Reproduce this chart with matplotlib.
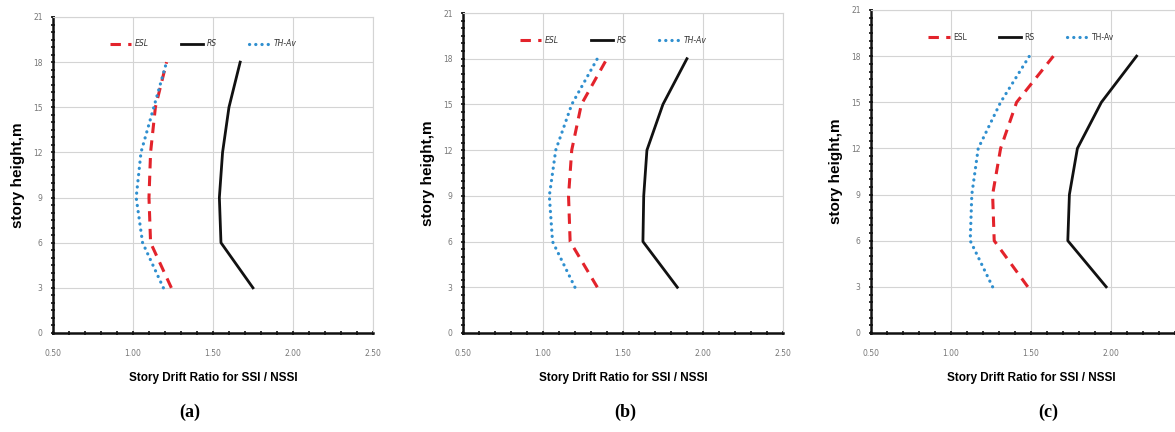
import matplotlib
matplotlib.use("Agg")
import matplotlib.pyplot as plt
from matplotlib.ticker import MultipleLocator, FixedFormatter

heights = [3, 6, 9, 12, 15, 18]
panels = ["(a)", "(b)", "(c)"]

esl_a = [1.24, 1.11, 1.10, 1.11, 1.14, 1.21]
rs_a = [1.75, 1.55, 1.54, 1.56, 1.60, 1.67]
th_a = [1.19, 1.06, 1.02, 1.05, 1.13, 1.21]

esl_b = [1.34, 1.17, 1.16, 1.18, 1.24, 1.40]
rs_b = [1.84, 1.625, 1.63, 1.65, 1.75, 1.90]
th_b = [1.20, 1.06, 1.04, 1.08, 1.18, 1.34]

esl_c = [1.48, 1.27, 1.26, 1.31, 1.41, 1.64]
rs_c = [1.97, 1.73, 1.74, 1.79, 1.94, 2.16]
th_c = [1.26, 1.12, 1.13, 1.17, 1.31, 1.49]

series_names = ["ESL", "RS", "TH-Av"]
xticks = [0.50, 1.00, 1.50, 2.00, 2.50]
xticklabels = ["0.50", "1.00", "1.50", "2.00", "2.50"]
yticks = [0, 3, 6, 9, 12, 15, 18, 21]

data = [(esl_a, rs_a, th_a), (esl_b, rs_b, th_b), (esl_c, rs_c, th_c)]

fig = plt.figure(figsize=(11.75, 4.32), dpi=100)

W = 0.2723
positions = [(0.0451, 0.2292, W, 0.7315),
             (0.3940, 0.2292, W, 0.7407),
             (0.7413, 0.2292, W, 0.7477)]
legend_italic = [True, True, False]
panel_x = [190 / 1175, 625 / 1175, 1048 / 1175]

bold_font = ["Liberation Sans", "DejaVu Sans"]

for i, (pos, (esl, rs, th)) in enumerate(zip(positions, data)):
    ax = fig.add_axes(pos)
    ax.plot(esl, heights, color="#e3232b", lw=2.2, ls=(0, (3.4, 2.4)), label=series_names[0])
    ax.plot(rs, heights, color="#111111", lw=2.0, ls="-", label=series_names[1])
    ax.plot(th, heights, color="#2f8fcf", lw=2.3, ls=(0, (0.05, 1.9)),
            dash_capstyle="round", label=series_names[2])
    ax.set_xlim(0.5, 2.5)
    ax.set_ylim(0, 21)
    ax.set_xticks(xticks)
    labels = list(xticklabels)
    if i == 2:
        labels[-1] = ""
    ax.set_xticklabels(labels)
    ax.set_yticks(yticks)
    ax.xaxis.set_minor_locator(MultipleLocator(0.1))
    ax.yaxis.set_minor_locator(MultipleLocator(0.5))
    ax.grid(True, which="major", color="#d4d4d4", lw=0.8)
    ax.set_axisbelow(True)
    for s in ["top", "right"]:
        ax.spines[s].set_color("#d4d4d4")
        ax.spines[s].set_linewidth(0.8)
    for s in ["left", "bottom"]:
        ax.spines[s].set_color("#111111")
        ax.spines[s].set_linewidth(1.8)
    ax.tick_params(axis="both", which="major", labelsize=5.5, labelcolor="#777777",
                   color="#111111", direction="inout", length=3, width=1.2)
    ax.tick_params(axis="both", which="minor", color="#111111",
                   direction="inout", length=3, width=1.2)
    ax.tick_params(axis="x", which="major", pad=10)
    ax.tick_params(axis="y", which="major", pad=6)
    ax.set_xlabel("Story Drift Ratio for SSI / NSSI", family=bold_font,
                  fontweight="bold", fontsize=8.5, labelpad=10)
    ax.set_ylabel("story height,m", family=bold_font, fontweight="bold",
                  fontsize=11, labelpad=6)
    leg = ax.legend(loc="center", bbox_to_anchor=(0.47, 0.915), ncol=3,
                    frameon=False, fontsize=5.5, handlelength=2.8,
                    columnspacing=4.2, handletextpad=0.5)
    for t in leg.get_texts():
        t.set_color("#333333")
        if legend_italic[i]:
            t.set_fontstyle("italic")
    fig.text(panel_x[i], 0.045, panels[i], ha="center", va="center",
             family=["Liberation Serif", "DejaVu Serif"], fontweight="bold", fontsize=13)

fig.savefig("out.png", dpi=100)
